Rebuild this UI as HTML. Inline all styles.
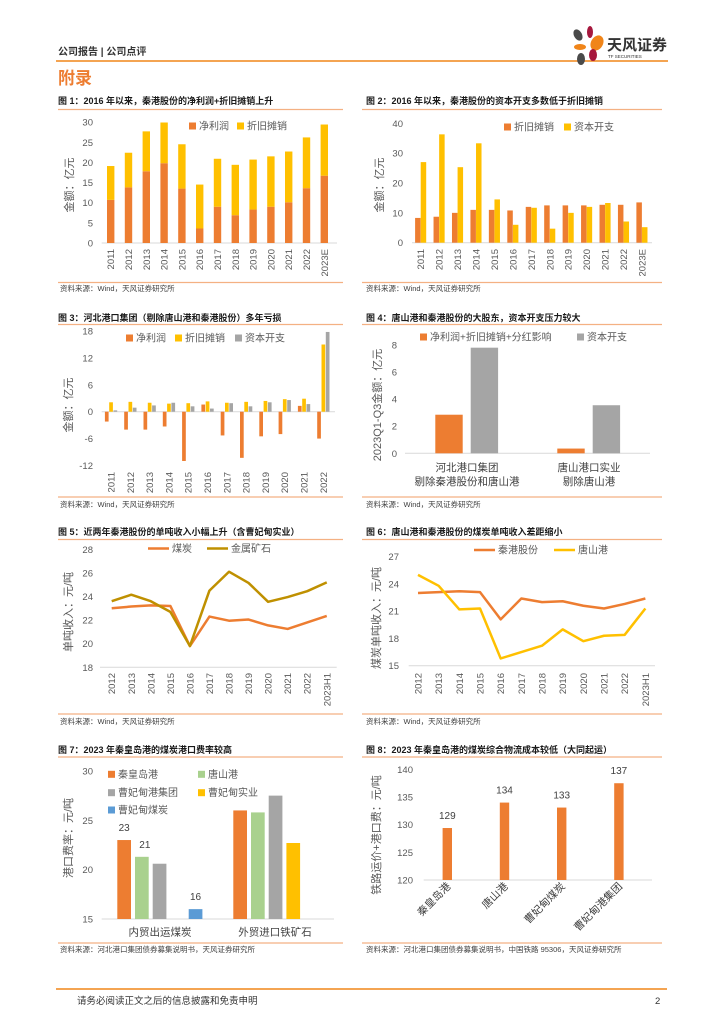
<!DOCTYPE html>
<html><head><meta charset="utf-8"><style>
html,body{margin:0;padding:0;background:#fff;}
svg{display:block;font-family:"Liberation Sans","Noto Sans CJK SC",sans-serif;}
.t{font-size:9px;font-weight:bold;fill:#1a1a1a;}
.s{font-size:7.5px;fill:#404040;}
.tk{font-size:9.5px;fill:#595959;}
.lg{font-size:10px;fill:#595959;}
</style></head><body>
<svg id="pg" width="724" height="1024" viewBox="0 0 724 1024" xmlns="http://www.w3.org/2000/svg">
<g>
<text x="58" y="55" style="font-size:10px;font-weight:bold;fill:#333">公司报告 | 公司点评</text>
<line x1="56" y1="61" x2="668" y2="61" stroke="#F08519" stroke-width="1.6"/>
<g>
<ellipse cx="578" cy="35" rx="4" ry="6" fill="#4a4a4a" transform="rotate(-30 578 35)"/>
<ellipse cx="590" cy="32" rx="3" ry="6" fill="#A6173D"/>
<ellipse cx="597" cy="43" rx="6" ry="8" fill="#F08519" transform="rotate(30 597 43)"/>
<ellipse cx="580" cy="47" rx="6" ry="3" fill="#F08519"/>
<ellipse cx="593" cy="55" rx="4" ry="6" fill="#A6173D"/>
<ellipse cx="581" cy="59" rx="4" ry="6" fill="#4a4a4a"/>
<text x="607" y="50" style="font-size:15px;font-weight:bold;fill:#333">天风证券</text>
<text x="608" y="58" style="font-size:4.5px;fill:#333">TF SECURITIES</text>
</g>
<text x="58" y="84" style="font-size:17px;font-weight:bold;fill:#ED7D31">附录</text>
</g>

<text class="t" x="58" y="104">图 1：2016 年以来，秦港股份的净利润+折旧摊销上升</text>
<line x1="58" y1="109.5" x2="343" y2="109.5" stroke="#F4B183" stroke-width="1.2"/>
<line x1="58" y1="282.5" x2="343" y2="282.5" stroke="#F4B183" stroke-width="1.2"/>
<text class="s" x="60" y="291">资料来源：Wind，天风证券研究所</text>

<text class="t" x="366" y="104">图 2：2016 年以来，秦港股份的资本开支多数低于折旧摊销</text>
<line x1="362" y1="109.5" x2="662" y2="109.5" stroke="#F4B183" stroke-width="1.2"/>
<line x1="362" y1="282.5" x2="662" y2="282.5" stroke="#F4B183" stroke-width="1.2"/>
<text class="s" x="366" y="291">资料来源：Wind，天风证券研究所</text>

<text class="t" x="58" y="321">图 3：河北港口集团（剔除唐山港和秦港股份）多年亏损</text>
<line x1="58" y1="324.5" x2="343" y2="324.5" stroke="#F4B183" stroke-width="1.2"/>
<line x1="58" y1="497" x2="343" y2="497" stroke="#F4B183" stroke-width="1.2"/>
<text class="s" x="60" y="507">资料来源：Wind，天风证券研究所</text>

<text class="t" x="366" y="321">图 4：唐山港和秦港股份的大股东，资本开支压力较大</text>
<line x1="362" y1="324.5" x2="662" y2="324.5" stroke="#F4B183" stroke-width="1.2"/>
<line x1="362" y1="497" x2="662" y2="497" stroke="#F4B183" stroke-width="1.2"/>
<text class="s" x="366" y="507">资料来源：Wind，天风证券研究所</text>

<text class="t" x="58" y="535">图 5：近两年秦港股份的单吨收入小幅上升（含曹妃甸实业）</text>
<line x1="58" y1="539.5" x2="343" y2="539.5" stroke="#F4B183" stroke-width="1.2"/>
<line x1="58" y1="714" x2="343" y2="714" stroke="#F4B183" stroke-width="1.2"/>
<text class="s" x="60" y="724">资料来源：Wind，天风证券研究所</text>

<text class="t" x="366" y="535">图 6：唐山港和秦港股份的煤炭单吨收入差距缩小</text>
<line x1="362" y1="539.5" x2="662" y2="539.5" stroke="#F4B183" stroke-width="1.2"/>
<line x1="362" y1="714" x2="662" y2="714" stroke="#F4B183" stroke-width="1.2"/>
<text class="s" x="366" y="724">资料来源：Wind，天风证券研究所</text>

<text class="t" x="58" y="753">图 7：2023 年秦皇岛港的煤炭港口费率较高</text>
<line x1="58" y1="757" x2="343" y2="757" stroke="#F4B183" stroke-width="1.2"/>
<line x1="58" y1="943" x2="343" y2="943" stroke="#F4B183" stroke-width="1.2"/>
<text class="s" x="60" y="952">资料来源：河北港口集团债券募集说明书，天风证券研究所</text>

<text class="t" x="366" y="753">图 8：2023 年秦皇岛港的煤炭综合物流成本较低（大同起运）</text>
<line x1="362" y1="757" x2="662" y2="757" stroke="#F4B183" stroke-width="1.2"/>
<line x1="362" y1="943" x2="662" y2="943" stroke="#F4B183" stroke-width="1.2"/>
<text class="s" x="366" y="952">资料来源：河北港口集团债券募集说明书，中国铁路 95306，天风证券研究所</text>

<line x1="56" y1="989" x2="667" y2="989" stroke="#F08519" stroke-width="1.6"/>
<text x="77" y="1004" style="font-size:9.5px;fill:#333">请务必阅读正文之后的信息披露和免责申明</text>
<text x="655" y="1004" style="font-size:9.5px;fill:#333">2</text>
<g id="charts"></g>
</svg>
<script>
// ---- data ----
const f1Years=['2011','2012','2013','2014','2015','2016','2017','2018','2019','2020','2021','2022','2023E'];
const f1Net=[10.7,13.8,17.8,19.8,13.5,3.6,9.0,6.9,8.3,9.0,10.1,13.6,16.7];
const f1Dep=[8.4,8.6,9.9,10.1,11.0,10.9,11.9,12.5,12.4,12.5,12.6,12.6,12.7];
const f1Ticks=[0,5,10,15,20,25,30];

const f2Years=['2011','2012','2013','2014','2015','2016','2017','2018','2019','2020','2021','2022','2023E'];
const f2Dep=[8.3,8.7,10.0,11.0,11.0,10.8,12.0,12.5,12.5,12.5,12.7,12.7,13.5];
const f2Capex=[27.0,36.3,25.3,33.3,14.5,6.0,11.7,4.7,10.0,12.0,13.3,7.1,5.2];
const f2Ticks=[0,10,20,30,40];

const f3Years=['2011','2012','2013','2014','2015','2016','2017','2018','2019','2020','2021','2022'];
const f3Net=[-2.2,-4.0,-4.0,-3.3,-11.0,1.6,-5.3,-10.3,-5.5,-5.0,1.3,-6.0];
const f3Dep=[2.1,2.2,2.0,1.8,1.9,2.3,2.0,2.2,2.4,2.8,2.9,15.0];
const f3Capex=[0.3,0.9,1.4,2.0,1.2,0.7,1.9,1.2,2.1,2.6,1.7,17.8];
const f3Ticks=[-12,-6,0,6,12,18];

const f4Cats=[['河北港口集团','剔除秦港股份和唐山港'],['唐山港口实业','剔除唐山港']];
const f4Cash=[2.85,0.35];
const f4Capex=[7.8,3.55];
const f4Ticks=[0,2,4,6,8];

const f5Years=['2012','2013','2014','2015','2016','2017','2018','2019','2020','2021','2022','2023H1'];
const f5Coal=[23.0,23.15,23.25,23.2,19.8,22.3,21.95,22.05,21.55,21.25,21.8,22.35];
const f5Metal=[23.6,24.15,23.6,22.7,19.8,24.5,26.1,25.15,23.55,23.95,24.45,25.2];
const f5Ticks=[18,20,22,24,26,28];

const f6Years=['2012','2013','2014','2015','2016','2017','2018','2019','2020','2021','2022','2023H1'];
const f6Qg=[23.0,23.1,23.2,23.1,20.1,22.4,22.0,22.1,21.6,21.3,21.8,22.4];
const f6Ts=[25.0,23.8,21.2,21.3,15.8,16.5,17.2,19.0,17.7,18.3,18.4,21.3];
const f6Ticks=[15,18,21,24,27];

const f7Cats=['内贸出运煤炭','外贸进口铁矿石'];
const f7Series=['秦皇岛港','唐山港','曹妃甸港集团','曹妃甸实业','曹妃甸煤炭'];
const f7Coal=[23.0,21.3,20.6,null,16.0];
const f7Ore=[26.0,25.8,27.5,22.7,null];
const f7CoalLabels=['23','21',null,null,'16'];
const f7Ticks=[15,20,25,30];

const f8Cats=['秦皇岛港','唐山港','曹妃甸煤炭','曹妃甸港集团'];
const f8Vals=[129.4,134.0,133.1,137.5];
const f8Labels=['129','134','133','137'];
const f8Ticks=[120,125,130,135,140];

const OR='#ED7D31',YE='#FFC000',GR='#A5A5A5',GN='#A9D18E',BL='#5B9BD5',GD='#BF9000';
const NS='http://www.w3.org/2000/svg';
const root=document.getElementById('charts');
function mk(tag,attrs,parent,txt){const e=document.createElementNS(NS,tag);for(const k in attrs)e.setAttribute(k,attrs[k]);if(txt!=null)e.textContent=txt;(parent||root).appendChild(e);return e;}
function grp(name){const g=mk('g',{});return g;}
function yTicks(g,ticks,fy,x){ticks.forEach(t=>{const e=mk('text',{x:x,y:fy(t)+3.5,'text-anchor':'end',class:'tk'},g,String(t));});}
function xRot(g,labels,fx,top){labels.forEach((l,i)=>{const e=mk('text',{transform:`translate(${fx(i)+3.5},${top}) rotate(-90)`,'text-anchor':'end',class:'tk'},g,l);});}
function yTitle(g,txt,x,y){const e=mk('text',{transform:`translate(${x},${y}) rotate(-90)`,'text-anchor':'middle','dominant-baseline':'middle',style:'font-size:11px;fill:#595959'},g,txt);}
function axis(g,x1,x2,y){const e=mk('line',{x1:x1,x2:x2,y1:y,y2:y,stroke:'#D9D9D9','stroke-width':1},g);}
function legSq(g,x,y,c,txt){const r=mk('rect',{x:x,y:y-3.5,width:7,height:7,fill:c},g);const t=mk('text',{x:x+10,y:y+3.5,class:'lg'},g,txt);}
function legLine(g,x,y,c,txt){const l=mk('line',{x1:x,x2:x+21,y1:y,y2:y,stroke:c,'stroke-width':2.5},g);const t=mk('text',{x:x+24,y:y+3.5,class:'lg'},g,txt);}
function bar(g,x,w,ya,yb,c,name){const r=mk('rect',{x:x,y:Math.min(ya,yb),width:w,height:Math.abs(yb-ya),fill:c},g);return r;}

// ---- Fig 1 ----
(function(){const g=grp('fig1-chart');const fy=v=>243-v*4.03,fx=i=>110.7+i*17.8;
yTicks(g,f1Ticks,fy,93);axis(g,101.7,337,243);
f1Years.forEach((y,i)=>{bar(g,fx(i)-3.7,7.4,fy(0),fy(f1Net[i]),OR,'bar-net-profit');bar(g,fx(i)-3.7,7.4,fy(f1Net[i]),fy(f1Net[i]+f1Dep[i]),YE,'bar-depreciation');});
xRot(g,f1Years,fx,249);yTitle(g,'金额：亿元',70,185);
legSq(g,189,126,OR,'净利润');legSq(g,237,126,YE,'折旧摊销');})();

// ---- Fig 2 ----
(function(){const g=grp('fig2-chart');const fy=v=>242.7-v*2.985,fx=i=>420.7+i*18.44;
yTicks(g,f2Ticks,fy,403);axis(g,412,652,242.7);
f2Years.forEach((y,i)=>{bar(g,fx(i)-5.6,5.5,fy(0),fy(f2Dep[i]),OR,'bar-depreciation');bar(g,fx(i),5.5,fy(0),fy(f2Capex[i]),YE,'bar-capex');});
xRot(g,f2Years,fx,249);yTitle(g,'金额：亿元',380,185);
legSq(g,504,127,OR,'折旧摊销');legSq(g,564,127,YE,'资本开支');})();

// ---- Fig 3 ----
(function(){const g=grp('fig3-chart');const fy=v=>411.7-v*4.48,fx=i=>111+i*19.3;
yTicks(g,f3Ticks,fy,93);axis(g,101.7,335,411.7);
f3Years.forEach((y,i)=>{bar(g,fx(i)-6.1,3.7,fy(0),fy(f3Net[i]),OR,'bar-net-profit');bar(g,fx(i)-1.8,3.7,fy(0),fy(f3Dep[i]),YE,'bar-depreciation');bar(g,fx(i)+2.5,3.7,fy(0),fy(f3Capex[i]),GR,'bar-capex');});
xRot(g,f3Years,fx,472);yTitle(g,'金额：亿元',69,405);
legSq(g,126,338,OR,'净利润');legSq(g,175,338,YE,'折旧摊销');legSq(g,235,338,GR,'资本开支');})();

// ---- Fig 4 ----
(function(){const g=grp('fig4-chart');const fy=v=>453.3-v*13.54;const cx=[467,589];
yTicks(g,f4Ticks,fy,397);axis(g,405,650,453.3);
f4Cats.forEach((c,i)=>{bar(g,cx[i]-31.7,27.4,fy(0),fy(f4Cash[i]),OR,'bar-cashflow');bar(g,cx[i]+3.7,27.4,fy(0),fy(f4Capex[i]),GR,'bar-capex');
c.forEach((l,j)=>{const t=mk('text',{x:cx[i],y:471+j*14,'text-anchor':'middle',style:'font-size:10.5px;fill:#404040'},g,l);});});
yTitle(g,'2023Q1-Q3金额：亿元',378,405);
legSq(g,420,337,OR,'净利润+折旧摊销+分红影响');legSq(g,577,337,GR,'资本开支');})();

// ---- Fig 5 ----
(function(){const g=grp('fig5-chart');const fy=v=>667.3-(v-18)*11.8,fx=i=>111.7+i*19.55;
yTicks(g,f5Ticks,fy,93);axis(g,100,336.7,667.3);
const p1=mk('polyline',{points:f5Coal.map((v,i)=>fx(i)+','+fy(v)).join(' '),fill:'none',stroke:OR,'stroke-width':2.5,'stroke-linejoin':'round'},g);

const p2=mk('polyline',{points:f5Metal.map((v,i)=>fx(i)+','+fy(v)).join(' '),fill:'none',stroke:GD,'stroke-width':2.5,'stroke-linejoin':'round'},g);

xRot(g,f5Years,fx,673);yTitle(g,'单吨收入：元/吨',69,612);
legLine(g,148,548.5,OR,'煤炭');legLine(g,207,548.5,GD,'金属矿石');})();

// ---- Fig 6 ----
(function(){const g=grp('fig6-chart');const fy=v=>665.7-(v-15)*9.08,fx=i=>418+i*20.67;
yTicks(g,f6Ticks,fy,399);axis(g,408.7,655,665.7);
const p1=mk('polyline',{points:f6Qg.map((v,i)=>fx(i)+','+fy(v)).join(' '),fill:'none',stroke:OR,'stroke-width':2.5,'stroke-linejoin':'round'},g);

const p2=mk('polyline',{points:f6Ts.map((v,i)=>fx(i)+','+fy(v)).join(' '),fill:'none',stroke:YE,'stroke-width':2.5,'stroke-linejoin':'round'},g);

xRot(g,f6Years,fx,673);yTitle(g,'煤炭单吨收入：元/吨',377,618);
legLine(g,474,550,OR,'秦港股份');legLine(g,554,550,YE,'唐山港');})();

// ---- Fig 7 ----
(function(){const g=grp('fig7-chart');const fy=v=>919-(v-15)*9.87;const cols=[OR,GN,GR,YE,BL];const starts=[117.3,233.3];const step=17.7,w=13.7;
yTicks(g,f7Ticks,fy,93);axis(g,101.7,334,919);
[f7Coal,f7Ore].forEach((arr,gi)=>{arr.forEach((v,si)=>{if(v==null)return;const x=(gi===0&&si===4)?starts[0]+3*step+18.3:starts[gi]+si*step;
bar(g,x,w,fy(15),fy(v),cols[si],'bar-port-fee');
if(gi===0&&f7CoalLabels[si]){const t=mk('text',{x:x+w/2+(si===1?3:0),y:fy(v)-9,'text-anchor':'middle',style:'font-size:10px;fill:#404040'},g,f7CoalLabels[si]);}});});
f7Cats.forEach((c,i)=>{const t=mk('text',{x:[160,275][i],y:935.5,'text-anchor':'middle',style:'font-size:10.5px;fill:#404040'},g,c);});
yTitle(g,'港口费率：元/吨',69,838);
const lp=[[108,774.3],[198,774.3],[108,792.7],[198,792.7],[108,810]];
f7Series.forEach((s,i)=>legSq(g,lp[i][0],lp[i][1],cols[i],s));})();

// ---- Fig 8 ----
(function(){const g=grp('fig8-chart');const fy=v=>880-(v-120)*5.53;const fx=i=>447.3+i*57.2;
yTicks(g,f8Ticks,fy,413);axis(g,423.7,652,880);
f8Vals.forEach((v,i)=>{bar(g,fx(i)-4.7,9.4,fy(120),fy(v),OR,'bar-logistics-cost');
const t=mk('text',{x:fx(i),y:fy(v)-9,'text-anchor':'middle',style:'font-size:10px;fill:#404040'},g,f8Labels[i]);
const c=mk('text',{transform:`translate(${fx(i)+4},${887}) rotate(-45)`,'text-anchor':'end',style:'font-size:10.5px;fill:#404040'},g,f8Cats[i]);});
yTitle(g,'铁路运价+港口费：元/吨',377,835);})();
</script>
</body></html>
